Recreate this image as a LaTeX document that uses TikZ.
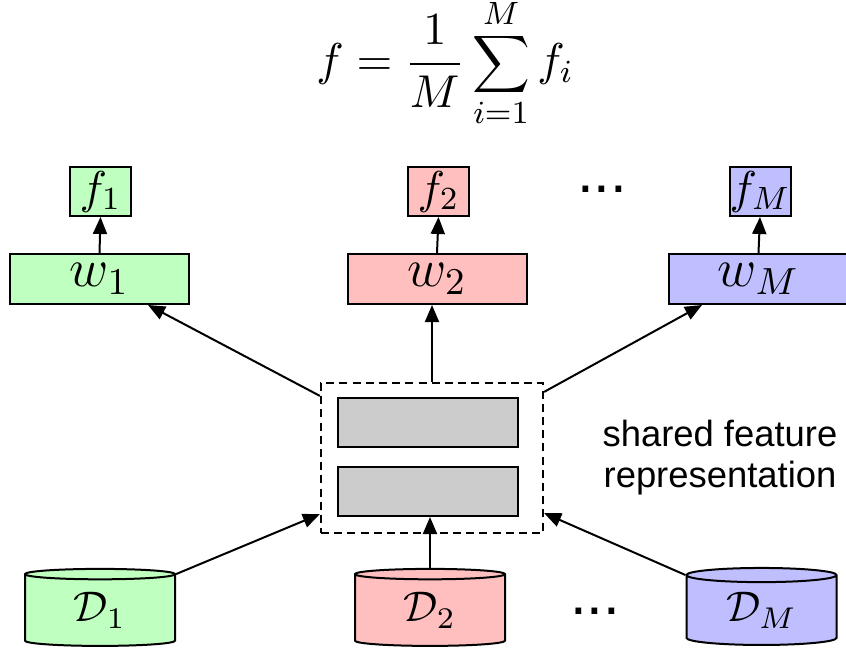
\RequirePackage{fix-cm}
\documentclass[tikz,border=0pt]{standalone}
\usepackage{fontspec}
\setsansfont{Liberation Sans}
\usetikzlibrary{shapes.geometric,arrows.meta}

\definecolor{hgreen}{RGB}{191,255,191}
\definecolor{hred}{RGB}{255,191,191}
\definecolor{hblue}{RGB}{191,191,255}
\definecolor{hgray}{RGB}{204,204,204}

\begin{document}
\begin{tikzpicture}[
  x=0.25pt, y=0.25pt,
  outbox/.style={rectangle, draw, line width=0.5pt, inner sep=0pt, minimum width=15.25pt, minimum height=12.25pt, font=\fontsize{11.5}{13}\selectfont},
  headbox/.style={rectangle, draw, line width=0.5pt, inner sep=0pt, minimum width=44.75pt, minimum height=12.5pt, font=\fontsize{13.5}{15}\selectfont},
  layerbox/.style={rectangle, draw, line width=0.5pt, fill=hgray, inner sep=0pt, minimum width=45pt, minimum height=12.25pt},
  database/.style={cylinder, shape border rotate=90, aspect=0.2, draw, line width=0.5pt, inner sep=0pt, minimum width=37.5pt, minimum height=19.25pt, font=\fontsize{10.7}{12}\selectfont},
  arrow/.style={-{Triangle[length=4.25pt,width=3.5pt]}, line width=0.5pt}
]
  \useasboundingbox (0,0) rectangle (846,655);

  % Ensemble output (top)
  \node[inner sep=0pt, font=\fontsize{11.5}{13}\selectfont] (avg) at (445,592) {$\displaystyle f=\frac{1}{M}\sum_{i=1}^{M}f_i$};

  % Task outputs
  \node[outbox, fill=hgreen] (f1) at (100.5,463.5) {$f_1$};
  \node[outbox, fill=hred] (f2) at (438.5,463.5) {$f_2$};
  \node[outbox, fill=hblue] (fM) at (760,463.5) {$f_M$};
  \node[font=\sffamily\fontsize{15}{16}\selectfont] (dotstop) at (602,466) {...};

  % Task heads
  \node[headbox, fill=hgreen] (w1) at (99.5,376) {$w_1$};
  \node[headbox, fill=hred] (w2) at (437,376) {$w_2$};
  \node[headbox, fill=hblue] (wM) at (758.5,376) {$w_M$};

  % Shared layers (middle)
  \node[rectangle, draw, dash pattern=on 2pt off 1.3pt, line width=0.55pt, minimum width=55.5pt, minimum height=37.5pt] (shared) at (432,197) {};
  \node[layerbox] (upper) at (428,232.5) {};
  \node[layerbox] (lower) at (428,163.5) {};
  \node[font=\sffamily\fontsize{9.1}{10.25}\selectfont, align=center, inner sep=0pt] (lbl) at (720,197) {shared feature\\representation};

  % Datasets (bottom)
  \node[database, fill=hgreen] (d1) at (100,44.5) {$\mathcal{D}_1$};
  \node[database, fill=hred] (d2) at (430,44.5) {$\mathcal{D}_2$};
  \node[database, fill=hblue] (dM) at (761.5,44.5) {$\mathcal{D}_M$};
  \node[font=\sffamily\fontsize{15}{16}\selectfont] (dotsbot) at (595,44) {...};

  % Arrows
  \draw[arrow] (w1.north) -- (f1.south);
  \draw[arrow] (w2.north) -- (f2.south);
  \draw[arrow] (wM.north) -- (fM.south);
  \draw[arrow] ([yshift=-3.5pt]shared.north west) -- ([xshift=-10.5pt]w1.south east);
  \draw[arrow] (shared.north) -- (shared.north |- w2.south);
  \draw[arrow] ([yshift=-2.5pt]shared.north east) -- ([xshift=8.5pt]wM.south west);
  \draw[arrow] (d1.after top) -- ([yshift=5pt]shared.south west);
  \draw[arrow] (d2.north) -- (d2.north |- lower.south);
  \draw[arrow] (dM.before top) -- ([yshift=5.25pt]shared.south east);
\end{tikzpicture}
\end{document}
